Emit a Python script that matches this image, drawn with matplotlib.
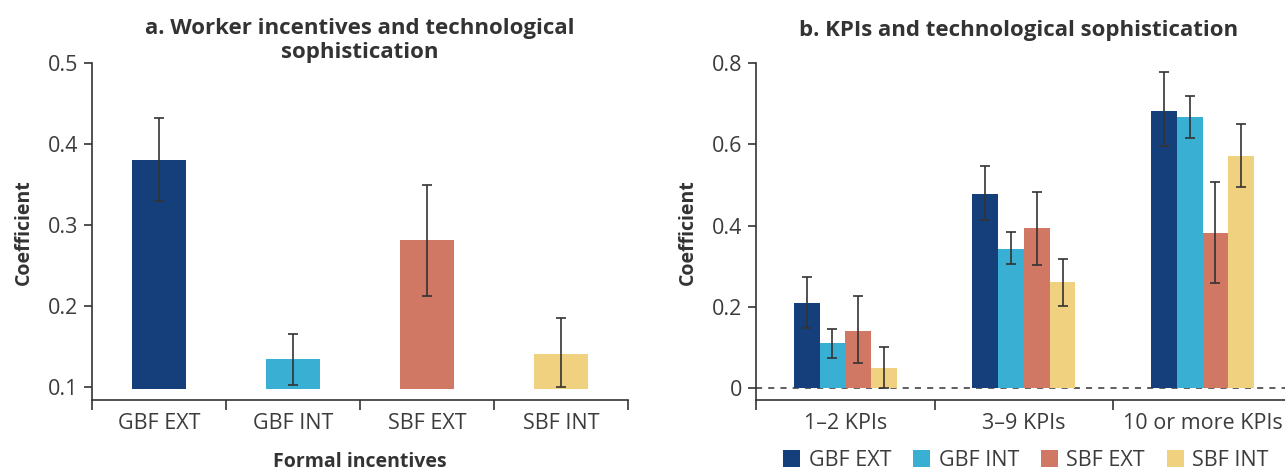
import numpy as np
import matplotlib
matplotlib.use("Agg")
import matplotlib.pyplot as plt
from matplotlib.patches import Patch

plt.rcParams['font.family'] = ['Open Sans', 'DejaVu Sans']

# panel a
incentives = ['GBF EXT', 'GBF INT', 'SBF EXT', 'SBF INT']
coef_a = [0.381, 0.134, 0.281, 0.141]
lo_a = [0.330, 0.102, 0.212, 0.099]
hi_a = [0.432, 0.165, 0.350, 0.185]

# panel b
kpi_groups = ['1–2 KPIs', '3–9 KPIs', '10 or more KPIs']
coef_b = {
    'GBF EXT': [0.209, 0.478, 0.682],
    'GBF INT': [0.111, 0.342, 0.667],
    'SBF EXT': [0.140, 0.394, 0.382],
    'SBF INT': [0.049, 0.261, 0.572],
}
lo_b = {
    'GBF EXT': [0.149, 0.413, 0.596],
    'GBF INT': [0.075, 0.306, 0.615],
    'SBF EXT': [0.062, 0.303, 0.258],
    'SBF INT': [0.000, 0.203, 0.496],
}
hi_b = {
    'GBF EXT': [0.273, 0.547, 0.778],
    'GBF INT': [0.146, 0.385, 0.720],
    'SBF EXT': [0.226, 0.483, 0.507],
    'SBF INT': [0.101, 0.318, 0.651],
}

colors = {'GBF EXT': '#143f7a', 'GBF INT': '#3aafd4',
          'SBF EXT': '#d07864', 'SBF INT': '#f0d17f'}
txt = '#333333'
lbl = '#3c3c3c'
errc = '#333333'
fs = 14
fs_tick = 15.5
fs_title = 16

fig = plt.figure(figsize=(12.85, 4.71), dpi=100)
ax1 = fig.add_axes([0.0716, 0.1507, 0.4171, 0.7149])
ax2 = fig.add_axes([0.5883, 0.1507, 0.4171, 0.7149])

# ---- panel a
x = np.arange(len(incentives))
base = 0.0975
ax1.bar(x, np.array(coef_a) - base, bottom=base, width=0.4,
        color=[colors[k] for k in incentives], zorder=2)
yerr = [np.array(coef_a) - np.array(lo_a), np.array(hi_a) - np.array(coef_a)]
ax1.errorbar(x, coef_a, yerr=yerr, fmt='none', ecolor=errc, elinewidth=1.2,
             capsize=3.3, capthick=1.2, zorder=3)
ax1.set_xlim(-0.5, 3.5)
ax1.set_ylim(0.0835, 0.5)
ax1.set_yticks([0.1, 0.2, 0.3, 0.4, 0.5])
ax1.set_yticklabels(['0.1', '0.2', '0.3', '0.4', '0.5'])
ax1.set_xticks(np.arange(-0.5, 3.6, 1))
ax1.set_xticklabels([])
ax1.set_xticks(x, minor=True)
ax1.set_xticklabels(incentives, minor=True)
ax1.set_ylabel('Coefficient', fontsize=fs, fontweight='bold', color=txt, labelpad=10)
ax1.set_xlabel('Formal incentives', fontsize=fs, fontweight='bold', color=txt, labelpad=13)
ax1.set_title('a. Worker incentives and technological\nsophistication', fontsize=fs_title,
              fontweight='bold', color=txt, pad=4, linespacing=1.15)

# ---- panel b
g = np.arange(len(kpi_groups))
bw = 0.144
for i, k in enumerate(incentives):
    xs = g + (i - 1.5) * bw
    ax2.bar(xs, coef_b[k], width=bw, color=colors[k], zorder=2)
    yerr = [np.array(coef_b[k]) - np.array(lo_b[k]), np.array(hi_b[k]) - np.array(coef_b[k])]
    ax2.errorbar(xs, coef_b[k], yerr=yerr, fmt='none', ecolor=errc, elinewidth=1.2,
                 capsize=3.3, capthick=1.2, zorder=3)
ax2.axhline(0, color=txt, linestyle=(0, (4, 4)), linewidth=1.1, zorder=1)
ax2.set_xlim(-0.5, 2.5)
ax2.set_ylim(-0.0296, 0.8)
ax2.set_yticks([0, 0.2, 0.4, 0.6, 0.8])
ax2.set_yticklabels(['0', '0.2', '0.4', '0.6', '0.8'])
ax2.set_xticks([-0.5, 0.5, 1.5, 2.5])
ax2.set_xticklabels([])
ax2.set_xticks(g, minor=True)
ax2.set_xticklabels(kpi_groups, minor=True)
ax2.set_ylabel('Coefficient', fontsize=fs, fontweight='bold', color=txt, labelpad=10)
ax2.set_title('b. KPIs and technological sophistication', fontsize=fs_title,
              fontweight='bold', color=txt, pad=20, x=0.49)

for ax in (ax1, ax2):
    ax.tick_params(axis='x', which='minor', length=0, pad=9, labelsize=fs_tick, labelcolor=lbl)
    ax.tick_params(axis='x', which='major', length=7, color=txt, width=1.2)
    ax.tick_params(axis='y', length=6, color=txt, width=1.2, labelsize=fs_tick, labelcolor=lbl, pad=4)
    ax.spines['top'].set_visible(False)
    ax.spines['right'].set_visible(False)
    ax.spines['left'].set_color(txt)
    ax.spines['bottom'].set_color(txt)
    ax.spines['left'].set_linewidth(1.2)
    ax.spines['bottom'].set_linewidth(1.2)

handles = [Patch(facecolor=colors[k], label=k) for k in incentives]
fig.legend(handles=handles, loc='center', bbox_to_anchor=(1026 / 1285, 0.022), ncol=4,
           frameon=False, fontsize=fs_tick, handlelength=0.8, handleheight=0.8,
           handletextpad=0.4, columnspacing=1.0, labelcolor=lbl)

fig.savefig('out.png', dpi=100)
